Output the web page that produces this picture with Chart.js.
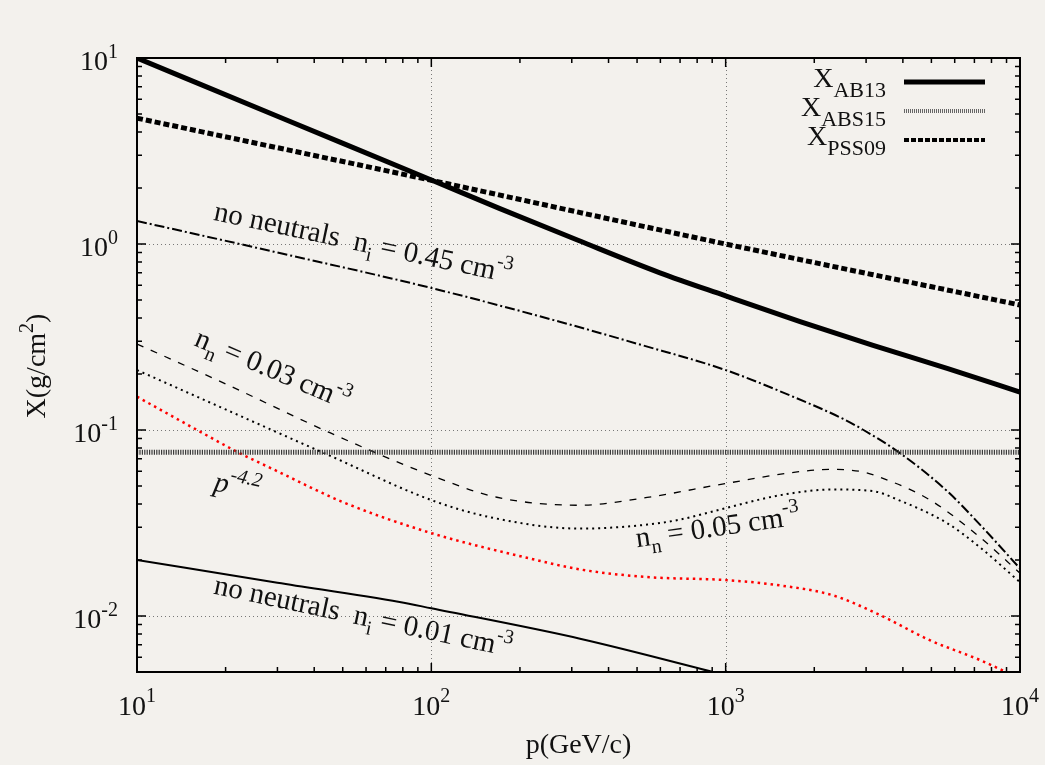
<!DOCTYPE html>
<html>
<head>
<meta charset="utf-8">
<script src="https://cdn.jsdelivr.net/npm/chart.js@4"></script>
<style>
  html, body { margin: 0; padding: 0; background: #f3f1ed; }
  canvas { display: block; }
</style>
</head>
<body>
<canvas id="grammage" width="1045" height="765"></canvas>
<script>
// axis decades + tick label exponents
const xDecades = [10, 100, 1000, 10000];
const xTickExp = ['1', '2', '3', '4'];
const yDecades = [0.01, 0.1, 1, 10];
const yTickExp = ['-2', '-1', '0', '1'];
const minorSteps = [2, 3, 4, 5, 6, 7, 8, 9];

// X_AB13
const pAB13 = [10, 31.6, 100, 171, 315, 598, 1000, 1790, 3168, 5653, 10000];
const xAB13 = [10, 4.7, 2.21, 1.55, 1.047, 0.70, 0.526, 0.383, 0.285, 0.2145, 0.16];
// X_ABS15
const pABS15 = [10, 10000];
const xABS15 = [0.076, 0.076];
// X_PSS09
const pPSS09 = [10, 100, 1000, 10000];
const xPSS09 = [4.75, 2.2, 1.0, 0.47];
// no neutrals, n_i = 0.45
const pNi045 = [10, 30, 100, 273, 500, 1000, 1694, 2500, 2940, 3870, 5650, 7310, 10000];
const xNi045 = [1.33, 0.9, 0.58, 0.382, 0.291, 0.21, 0.151, 0.115, 0.1, 0.076, 0.047, 0.031, 0.018];
// n_n = 0.03
const pNn003 = [10, 20, 45, 100, 167, 320, 541, 995, 1750, 2265, 2930, 3350, 4950, 7310, 10000];
const xNn003 = [0.29, 0.177, 0.097, 0.057, 0.0435, 0.0394, 0.0434, 0.0515, 0.0595, 0.0614, 0.0595, 0.0557, 0.042, 0.0265, 0.017];
// n_n = 0.05
const pNn005 = [10, 20, 45, 100, 158, 320, 541, 700, 1000, 1530, 2320, 3170, 3870, 5650, 7310, 10000];
const xNn005 = [0.21, 0.129, 0.073, 0.042, 0.034, 0.0295, 0.031, 0.033, 0.038, 0.0446, 0.0479, 0.0469, 0.042, 0.0316, 0.0234, 0.0152];
// p^-4.2 (red)
const pPow = [10, 16, 22, 30, 50, 100, 216, 320, 541, 1000, 1530, 2320, 3350, 4950, 7310, 10000];
const xPow = [0.151, 0.1, 0.076, 0.060, 0.041, 0.0279, 0.0204, 0.0178, 0.0162, 0.0156, 0.0146, 0.0129, 0.0101, 0.0074, 0.0058, 0.0046];
// no neutrals, n_i = 0.01
const pNi001 = [10, 30, 78, 100, 320, 906, 1000];
const xNi001 = [0.020, 0.0151, 0.0119, 0.011, 0.00755, 0.005, 0.0048];

const serif = '"Liberation Serif", "Times New Roman", serif';
const bg = '#f3f1ed';

function pts(p, X) {
    return p.map((v, i) => ({ x: v, y: X[i] }));
}

function series(p, X, style) {
    return Object.assign({
        data: pts(p, X),
        borderColor: '#000',
        pointRadius: 0,
        fill: false,
        cubicInterpolationMode: 'monotone',
        clip: 0
    }, style);
}

// text with sub/superscripts
function T(t, size, dy, style) {
    return { t: t, size: size, dy: dy || 0, style: style || '' };
}
function setFont(ctx, p) {
    ctx.font = (p.style ? p.style + ' ' : '') + p.size + 'px ' + serif;
}
function richWidth(ctx, parts) {
    let w = 0;
    parts.forEach(p => { setFont(ctx, p); w += ctx.measureText(p.t).width; });
    return w;
}
function drawRich(ctx, parts, x, y, align) {
    const w = richWidth(ctx, parts);
    let cx = align === 'right' ? x - w : (align === 'center' ? x - w / 2 : x);
    ctx.textAlign = 'left';
    ctx.textBaseline = 'alphabetic';
    parts.forEach(p => {
        setFont(ctx, p);
        ctx.fillText(p.t, cx, y + p.dy);
        cx += ctx.measureText(p.t).width;
    });
}

// curve annotations, anchored in data units
const notes = [
    { p: 18.1, X: 1.35, angle: 12, parts: [T('no neutrals  n', 29), T('i', 20, 8), T(' = 0.45 cm', 29), T('-3', 20, -13)] },
    { p: 15.5, X: 0.286, angle: 23, parts: [T('n', 29), T('n', 20, 8), T(' = 0.03 cm', 29), T('-3', 20, -13)] },
    { p: 18.1, X: 0.0474, angle: 12, parts: [T('p', 29, 0, 'italic'), T('-4.2', 20, -13, 'italic')] },
    { p: 500, X: 0.0234, angle: -8, parts: [T('n', 29), T('n', 20, 8), T(' = 0.05 cm', 29), T('-3', 20, -13)] },
    { p: 18.1, X: 0.0132, angle: 12, parts: [T('no neutrals  n', 29), T('i', 20, 8), T(' = 0.01 cm', 29), T('-3', 20, -13)] }
];

const legendRows = [
    { name: 'AB13', width: 5, dash: [], color: '#000' },
    { name: 'ABS15', width: 4, dash: [1, 1], color: '#666' },
    { name: 'PSS09', width: 4, dash: [5, 2], color: '#000' }
];

const frame = {
    id: 'frame',
    beforeDraw(chart) {
        const ctx = chart.ctx;
        ctx.save();
        ctx.fillStyle = bg;
        ctx.fillRect(0, 0, chart.width, chart.height);
        ctx.restore();
    },
    beforeDatasetsDraw(chart) {
        const { ctx, chartArea: a, scales: { x, y } } = chart;
        ctx.save();
        ctx.strokeStyle = '#777';
        ctx.lineWidth = 1;
        ctx.setLineDash([1, 3]);
        xDecades.forEach(v => {
            const px = Math.round(x.getPixelForValue(v)) + 0.5;
            if (px <= a.left + 2 || px >= a.right - 2) return;
            ctx.beginPath(); ctx.moveTo(px, a.top); ctx.lineTo(px, a.bottom); ctx.stroke();
        });
        yDecades.forEach(v => {
            const py = Math.round(y.getPixelForValue(v)) + 0.5;
            if (py <= a.top + 2 || py >= a.bottom - 2) return;
            ctx.beginPath(); ctx.moveTo(a.left, py); ctx.lineTo(a.right, py); ctx.stroke();
        });
        ctx.restore();
    },
    afterDatasetsDraw(chart) {
        const { ctx, chartArea: a, scales: { x, y } } = chart;
        ctx.save();
        ctx.strokeStyle = '#000';
        ctx.fillStyle = '#111';
        ctx.setLineDash([]);

        // tick marks on all four sides, pointing inwards
        ctx.lineWidth = 1.5;
        const xTick = (v, len) => {
            const px = x.getPixelForValue(v);
            if (px < a.left - 0.5 || px > a.right + 0.5) return;
            ctx.beginPath();
            ctx.moveTo(px, a.bottom); ctx.lineTo(px, a.bottom - len);
            ctx.moveTo(px, a.top); ctx.lineTo(px, a.top + len);
            ctx.stroke();
        };
        const yTick = (v, len) => {
            const py = y.getPixelForValue(v);
            if (py < a.top - 0.5 || py > a.bottom + 0.5) return;
            ctx.beginPath();
            ctx.moveTo(a.left, py); ctx.lineTo(a.left + len, py);
            ctx.moveTo(a.right, py); ctx.lineTo(a.right - len, py);
            ctx.stroke();
        };
        xDecades.forEach(d => {
            xTick(d, 9);
            minorSteps.forEach(m => xTick(d * m, 5));
        });
        [0.001].concat(yDecades).forEach(d => {
            yTick(d, 9);
            minorSteps.forEach(m => yTick(d * m, 5));
        });

        // frame
        ctx.lineWidth = 2;
        ctx.strokeRect(a.left, a.top, a.right - a.left, a.bottom - a.top);

        // tick labels
        xDecades.forEach((v, i) => {
            drawRich(ctx, [T('10', 28), T(xTickExp[i], 20, -13)], x.getPixelForValue(v), a.bottom + 43, 'center');
        });
        yDecades.forEach((v, i) => {
            drawRich(ctx, [T('10', 28), T(yTickExp[i], 20, -12)], a.left - 19, y.getPixelForValue(v) + 12, 'right');
        });

        // axis titles
        drawRich(ctx, [T('p(GeV/c)', 28)], (a.left + a.right) / 2, 753, 'center');
        ctx.save();
        ctx.translate(45, 366);
        ctx.rotate(-Math.PI / 2);
        drawRich(ctx, [T('X(g/cm', 28), T('2', 20, -12), T(')', 28)], 0, 0, 'center');
        ctx.restore();

        // curve notes
        notes.forEach(n => {
            ctx.save();
            ctx.translate(x.getPixelForValue(n.p), y.getPixelForValue(n.X));
            ctx.rotate(n.angle * Math.PI / 180);
            drawRich(ctx, n.parts, 0, 0, 'left');
            ctx.restore();
        });

        // legend
        legendRows.forEach((r, i) => {
            const ly = 82 + i * 29;
            drawRich(ctx, [T('X', 28), T(r.name, 22, 10)], 886, ly + 5, 'right');
            ctx.save();
            ctx.strokeStyle = r.color;
            ctx.lineWidth = r.width;
            ctx.setLineDash(r.dash);
            ctx.beginPath(); ctx.moveTo(904, ly); ctx.lineTo(985, ly); ctx.stroke();
            ctx.restore();
        });
        ctx.restore();
    }
};

const data = {
    datasets: [
        series(pAB13, xAB13, { label: 'X_AB13', borderWidth: 5 }),
        series(pPSS09, xPSS09, { label: 'X_PSS09', borderWidth: 5, borderDash: [6, 3] }),
        series(pABS15, xABS15, { label: 'X_ABS15', borderWidth: 5, borderDash: [1.2, 1.2], borderColor: '#3a3a3a' }),
        series(pNi045, xNi045, { label: 'no neutrals n_i = 0.45', borderWidth: 2, borderDash: [10, 3, 2, 3] }),
        series(pNn003, xNn003, { label: 'n_n = 0.03', borderWidth: 1.3, borderDash: [7, 8] }),
        series(pNn005, xNn005, { label: 'n_n = 0.05', borderWidth: 2, borderDash: [2, 4] }),
        series(pPow, xPow, { label: 'p^-4.2', borderWidth: 2.5, borderDash: [2.5, 4], borderColor: '#ff0000' }),
        series(pNi001, xNi001, { label: 'no neutrals n_i = 0.01', borderWidth: 2 })
    ]
};

const config = {
    type: 'line',
    data: data,
    options: {
        responsive: false,
        animation: false,
        layout: { padding: { left: 137, top: 58, right: 25, bottom: 93 } },
        scales: {
            x: { type: 'logarithmic', min: 10, max: 10000, display: false },
            y: { type: 'logarithmic', min: 0.005, max: 10, display: false }
        },
        plugins: {
            legend: { display: false },
            tooltip: { enabled: false }
        }
    },
    plugins: [frame]
};

new Chart(document.getElementById('grammage'), config);
</script>
</body>
</html>
